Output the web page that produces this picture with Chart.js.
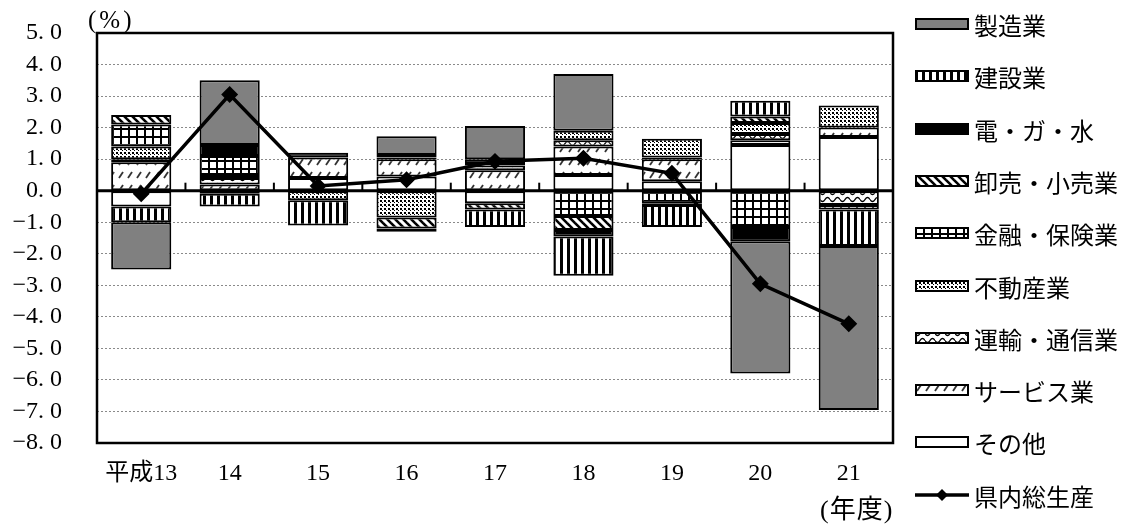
<!DOCTYPE html>
<html>
<head>
<meta charset="utf-8">
<script src="https://cdn.jsdelivr.net/npm/chart.js@4"></script>
<style>
body { margin: 0; background: #fff; }
#wrap { position: relative; width: 1122px; height: 524px; font-family: 'Liberation Serif', 'Noto Sans CJK JP', serif; color: #000; }
#chart { position: absolute; left: 0; top: 0; }
.note { position: absolute; font-size: 25px; line-height: 24px; white-space: nowrap; letter-spacing: 3px; }
.item { position: absolute; left: 915px; height: 24px; display: flex; align-items: center; white-space: nowrap; font-size: 24px; font-family: 'Noto Sans CJK JP', sans-serif; }
.item canvas { margin-right: 5px; }
</style>
</head>
<body>
<div id="wrap">
  <canvas id="chart" width="1122" height="524"></canvas>
  <div class="note" style="left:88px; top:8px;">(%)</div>
  <div class="note" style="left:820px; top:498px; font-size:26px; letter-spacing:1px;">(年度)</div>
  <div id="legend"></div>
</div>
<script>
// 年度
const years = ['平成13', '14', '15', '16', '17', '18', '19', '20', '21'];

// 産業別寄与度 (%)
const manufacturing = [-1.5, 2.05, null, 0.6, 1.05, 1.8, null, -4.2, -5.2];
const construction  = [-0.5, -0.4, -0.8, -0.1, -0.55, -1.25, -0.7, 0.5, -1.15];
const utilities     = [null, 0.35, 0.15, 0.08, 0.15, -0.2, -0.05, -0.45, null];
const trade         = [0.3, -0.1, null, -0.35, -0.2, -0.45, null, 0.2, null];
const finance       = [0.7, 0.6, null, null, null, -0.8, -0.4, -1.15, -0.15];
const realEstate    = [0.4, 0.1, -0.3, -0.85, 0.05, 0.3, 0.6, 0.35, 0.7];
const transport     = [0.1, 0.2, null, 0.05, 0.15, 0.2, 0.05, 0.2, -0.45];
const services      = [0.9, 0.2, 0.65, 0.55, 0.65, 0.9, 0.7, 0.15, 0.3];
const others        = [-0.5, null, 0.4, 0.45, -0.4, 0.5, 0.3, 1.45, 1.7];

// 県内総生産 (実質経済成長率)
const total = [-0.1, 3.05, 0.15, 0.35, 0.93, 1.03, 0.55, -2.95, -4.22];

// legend order (top to bottom)
const seriesNames = ['製造業', '建設業', '電・ガ・水', '卸売・小売業', '金融・保険業', '不動産業', '運輸・通信業', 'サービス業', 'その他'];
const seriesData = [manufacturing, construction, utilities, trade, finance, realEstate, transport, services, others];
const seriesFill = ['gray', 'vstripe', 'black', 'diag', 'grid', 'dots', 'wave', 'slash', 'white'];
const totalName = '県内総生産';

function makeFill(ctx, kind) {
    if (kind === 'gray') return '#808080';
    if (kind === 'black') return '#000';
    if (kind === 'white') return '#fff';
    let c = document.createElement('canvas');
    let w = 8, h = 8;
    if (kind === 'vstripe') { w = 7; h = 7; }
    if (kind === 'dots') { w = 4; h = 4; }
    if (kind === 'wave') { w = 10; h = 7; }
    if (kind === 'slash') { w = 9; h = 13; }
    c.width = w; c.height = h;
    let g = c.getContext('2d');
    g.fillStyle = '#fff';
    g.fillRect(0, 0, w, h);
    g.fillStyle = '#000';
    g.strokeStyle = '#000';
    if (kind === 'vstripe') {
        g.fillRect(0, 0, 3, h);
    } else if (kind === 'diag') {
        g.lineWidth = 2.6;
        [[-8, 0], [0, 0], [8, 0]].forEach(o => {
            g.beginPath();
            g.moveTo(o[0] - 1, -1);
            g.lineTo(o[0] + 9, 9);
            g.stroke();
        });
    } else if (kind === 'grid') {
        g.fillRect(0, 0, w, 2);
        g.fillRect(0, 0, 2, h);
    } else if (kind === 'dots') {
        g.fillRect(0, 0, 2, 2);
        g.fillRect(2, 2, 1, 1);
    } else if (kind === 'wave') {
        g.lineWidth = 1.3;
        g.beginPath();
        for (let x = 0; x <= w; x += 0.5) {
            let y = 3.5 + 2 * Math.sin(2 * Math.PI * x / w);
            if (x === 0) g.moveTo(x, y); else g.lineTo(x, y);
        }
        g.stroke();
    } else if (kind === 'slash') {
        g.strokeStyle = '#333';
        g.lineWidth = 1.8;
        g.beginPath();
        g.moveTo(2, 9);
        g.lineTo(6, 3);
        g.stroke();
    }
    return ctx.createPattern(c, 'repeat');
}

let ctx = document.getElementById('chart').getContext('2d');

// stack from zero outward: その他 first, 製造業 last
let datasets = [];
for (let i = seriesNames.length - 1; i >= 0; i--) {
    datasets.push({
        type: 'bar',
        label: seriesNames[i],
        data: seriesData[i],
        backgroundColor: makeFill(ctx, seriesFill[i]),
        borderColor: '#000',
        borderWidth: 2,
        borderSkipped: false,
        stack: 'industry',
        order: 1,
        categoryPercentage: 1,
        barPercentage: 0.68
    });
}
datasets.push({
    type: 'line',
    label: totalName,
    data: total,
    borderColor: '#000',
    borderWidth: 3.5,
    pointStyle: 'rectRot',
    pointRadius: 6,
    pointBackgroundColor: '#000',
    pointBorderColor: '#000',
    tension: 0,
    stack: 'total',
    order: 0
});

const framePlugin = {
    id: 'frame',
    beforeDatasetsDraw(chart) {
        let c = chart.ctx, a = chart.chartArea;
        let x = chart.scales.x, y = chart.scales.y;
        let y0 = y.getPixelForValue(0);
        c.save();
        c.strokeStyle = '#000';
        c.lineWidth = 3;
        c.beginPath();
        c.moveTo(a.left, y0);
        c.lineTo(a.right, y0);
        c.stroke();
        c.lineWidth = 2;
        for (let i = 0; i < years.length - 1; i++) {
            let bx = (x.getPixelForValue(i) + x.getPixelForValue(i + 1)) / 2;
            c.beginPath();
            c.moveTo(bx, y0);
            c.lineTo(bx, y0 - 8);
            c.stroke();
        }
        c.restore();
    },
    afterDraw(chart) {
        let c = chart.ctx, a = chart.chartArea;
        c.save();
        c.strokeStyle = '#000';
        c.lineWidth = 2.5;
        c.strokeRect(a.left, a.top, a.right - a.left, a.bottom - a.top);
        c.restore();
    }
};

const tickFont = { family: "'Liberation Serif', 'Noto Sans CJK JP', serif", size: 24 };

new Chart(ctx, {
    data: { labels: years, datasets: datasets },
    options: {
        responsive: false,
        animation: false,
        devicePixelRatio: 1,
        layout: { padding: { left: 0, top: 33, right: 229, bottom: 0 } },
        plugins: {
            legend: { display: false },
            tooltip: { enabled: false }
        },
        scales: {
            x: {
                stacked: true,
                grid: { display: false, drawTicks: false },
                border: { display: false },
                ticks: { color: '#000', font: tickFont, padding: 16, maxRotation: 0, autoSkip: false },
                afterFit: function(s) { s.height = 81; }
            },
            y: {
                stacked: true,
                min: -8,
                max: 5,
                grid: {
                    drawTicks: false,
                    lineWidth: 1,
                    color: function(c) { return c.tick && c.tick.value === 0 ? 'rgba(0,0,0,0)' : '#8a8a8a'; }
                },
                border: { display: false, dash: [2, 2] },
                ticks: {
                    stepSize: 1,
                    autoSkip: false,
                    color: '#000',
                    font: tickFont,
                    padding: 35,
                    callback: function(v) {
                        return (v < 0 ? '−' : '') + Math.abs(v).toFixed(1).replace('.', '. ');
                    }
                },
                afterFit: function(s) {
                    s.width = 97;
                    // tick padding is only horizontal here
                    s.paddingTop = 15;
                    s.paddingBottom = 15;
                }
            }
        }
    },
    plugins: [framePlugin]
});

// legend on the right
let legend = document.getElementById('legend');
let names = seriesNames.concat([totalName]);
names.forEach(function(name, i) {
    let item = document.createElement('div');
    item.className = 'item';
    item.style.top = Math.round(24 + 52.3 * i - 12) + 'px';
    let sw = document.createElement('canvas');
    sw.width = 54; sw.height = 16;
    let g = sw.getContext('2d');
    if (i < seriesNames.length) {
        g.fillStyle = makeFill(g, seriesFill[i]);
        g.fillRect(1, 3, 52, 10);
        g.strokeStyle = '#000';
        g.lineWidth = 2;
        g.strokeRect(1, 3, 52, 10);
    } else {
        g.strokeStyle = '#000';
        g.lineWidth = 3.5;
        g.beginPath();
        g.moveTo(0, 8);
        g.lineTo(54, 8);
        g.stroke();
        g.fillStyle = '#000';
        g.beginPath();
        g.moveTo(27, 2); g.lineTo(33, 8); g.lineTo(27, 14); g.lineTo(21, 8);
        g.closePath();
        g.fill();
    }
    item.appendChild(sw);
    let t = document.createElement('span');
    t.textContent = name;
    item.appendChild(t);
    legend.appendChild(item);
});
</script>
</body>
</html>
